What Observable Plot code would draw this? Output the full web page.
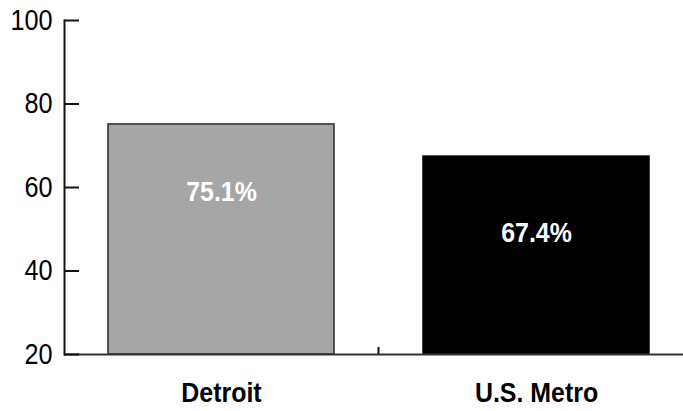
<!DOCTYPE html>
<html>
<head>
<meta charset="utf-8">
<script src="https://cdn.jsdelivr.net/npm/d3@7"></script>
<script src="https://cdn.jsdelivr.net/npm/@observablehq/plot@0.6"></script>
<style>
  html, body { margin: 0; padding: 0; background: #fff; }
</style>
</head>
<body>
<div id="chart"></div>
<script>
const categories = ["Detroit", "U.S. Metro"];
const values = [75.1, 67.4];
const labels = ["75.1%", "67.4%"];
const colors = ["#a6a6a6", "#000000"];
const yTicks = [20, 40, 60, 80, 100];
const yMin = 20, yMax = 100;

const data = categories.map((c, i) => ({category: c, value: values[i], label: labels[i], color: colors[i]}));

const font = "'Liberation Sans', Arial, sans-serif";

const chart = Plot.plot({
  width: 683,
  height: 411,
  marginLeft: 64,
  marginRight: 0,
  marginTop: 20,
  marginBottom: 57,
  style: {fontFamily: font, background: "#fff", color: "#000"},
  x: {type: "band", domain: categories, range: [73, 683], paddingInner: 0.2837, paddingOuter: 0.108, label: null},
  y: {domain: [yMin, yMax], label: null},
  marks: [
    Plot.barY(data, {x: "category", y1: yMin, y2: "value", fill: "color", stroke: d => d.color === "#000000" ? "#000" : "#2a2a2a", strokeWidth: 1.5}),
    Plot.text(data.filter(d => d.category === categories[0]), {x: "category", y: "value", text: "label", dy: 68, fill: "#fff", fontSize: 28, fontWeight: "bold"}),
    Plot.text(data.filter(d => d.category === categories[1]), {x: "category", y: "value", text: "label", dy: 76.5, fill: "#fff", fontSize: 28, fontWeight: "bold"}),
    Plot.ruleY([yMin], {stroke: "#333", strokeWidth: 2}),
    Plot.ruleY(yTicks, {stroke: "#111", strokeWidth: 2, insetRight: 604}),
    Plot.ruleX([categories[0]], {x: d => d, dx: 157, y1: yMin, y2: yMin + 1.7, stroke: "#111", strokeWidth: 2}),
    Plot.frame({anchor: "left", stroke: "#111", strokeWidth: 2}),
    Plot.axisY({ticks: yTicks, tickSize: 0, tickPadding: 12, fontSize: 29, tickFormat: d => String(d), label: null}),
    Plot.axisX({tickSize: 0, tickPadding: 28, fontSize: 28, fontWeight: "bold", label: null})
  ]
});
document.getElementById("chart").appendChild(chart);

// Condense glyphs horizontally to mimic a condensed typeface
chart.querySelectorAll("text").forEach(t => {
  const b = t.getBBox();
  const cs = getComputedStyle(t);
  const anchor = cs.textAnchor || t.getAttribute("text-anchor") || "start";
  const bold = cs.fontWeight === "bold" || +cs.fontWeight >= 600;
  const s = bold ? 0.89 : 0.87;
  const ax = anchor === "end" ? b.x + b.width : anchor === "middle" ? b.x + b.width / 2 : b.x;
  const prev = t.getAttribute("transform") || "";
  t.setAttribute("transform", `${prev} translate(${ax},0) scale(${s},1) translate(${-ax},0)`.trim());
});
</script>
</body>
</html>
